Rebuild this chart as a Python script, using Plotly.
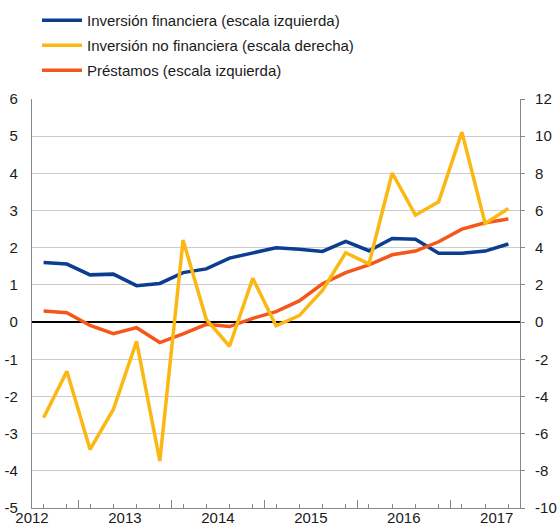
import plotly.graph_objects as go

# Quarterly data 2012Q1 .. 2017Q1
quarters = [2012 + i // 4 + (i % 4) / 4 + 0.125 for i in range(21)]
inv_financiera = [1.60, 1.56, 1.27, 1.29, 0.98, 1.04, 1.33, 1.43, 1.72, 1.85, 2.00,
                  1.96, 1.90, 2.17, 1.92, 2.25, 2.23, 1.85, 1.85, 1.91, 2.10]
inv_no_financiera = [-5.15, -2.65, -6.85, -4.70, -1.04, -7.47, 4.41, 0.15, -1.30, 2.36, -0.20,
                     0.35, 1.70, 3.73, 3.13, 8.02, 5.75, 6.47, 10.22, 5.31, 6.11]
prestamos = [0.30, 0.25, -0.09, -0.31, -0.15, -0.55, -0.32, -0.06, -0.12, 0.10, 0.28,
             0.57, 1.03, 1.33, 1.54, 1.81, 1.91, 2.16, 2.50, 2.67, 2.77]

year_ticks = [2012, 2013, 2014, 2015, 2016, 2017]
year_labels = ["2012", "2013", "2014", "2015", "2016", "2017"]
mid_year_ticks = [2012.5, 2013.5, 2014.5, 2015.5, 2016.5]
left_ticks = [-5, -4, -3, -2, -1, 0, 1, 2, 3, 4, 5, 6]
left_labels = ["-5", "-4", "-3", "-2", "-1", "0", "1", "2", "3", "4", "5", "6"]
right_ticks = [-10, -8, -6, -4, -2, 0, 2, 4, 6, 8, 10, 12]
right_labels = ["-10", "-8", "-6", "-4", "-2", "0", "2", "4", "6", "8", "10", "12"]

BLUE = "#0b3d91"
YELLOW = "#fbb812"
ORANGE = "#f5571b"
FONT = "Liberation Sans, Arial, sans-serif"

fig = go.Figure()
fig.add_trace(go.Scatter(x=quarters, y=inv_financiera, mode="lines",
                         name="Inversión financiera (escala izquierda)", legendgroup="a",
                         line=dict(color=BLUE, width=3.5)))
fig.add_trace(go.Scatter(x=quarters, y=inv_no_financiera, mode="lines",
                         name="Inversión no financiera (escala derecha)", legendgroup="b",
                         line=dict(color=YELLOW, width=3.5), yaxis="y2"))
fig.add_trace(go.Scatter(x=quarters, y=prestamos, mode="lines",
                         name="Préstamos (escala izquierda)", legendgroup="c",
                         line=dict(color=ORANGE, width=3.5)))
# invisible helper trace so the overlay axis carrying mid-year ticks is drawn
fig.add_trace(go.Scatter(x=[2012.5], y=[0], mode="markers", xaxis="x2",
                         marker=dict(opacity=0), showlegend=False, hoverinfo="skip"))

fig.update_layout(
    width=557, height=525,
    margin=dict(l=32, r=37, t=99, b=17, autoexpand=False),
    paper_bgcolor="white", plot_bgcolor="white",
    font=dict(family=FONT, size=15, color="#1a1a1a"),
    showlegend=True,
    legend=dict(x=37 / 557, y=1 - 4 / 525, xref="container", yref="container",
                yanchor="top", xanchor="left", orientation="v", tracegroupgap=2.5,
                font=dict(size=15, family=FONT), itemwidth=40,
                bgcolor="rgba(0,0,0,0)"),
    xaxis=dict(range=[2012, 2017.25], tickmode="array", tickvals=year_ticks,
               ticktext=year_labels, ticks="", showgrid=False, zeroline=False,
               showline=True, linecolor="#888888", linewidth=1.2, automargin=False,
               tickfont=dict(size=15, family=FONT), ticklabelstandoff=-4,
               minor=dict(tickmode="array", tickvals=quarters, ticks="inside",
                          ticklen=4, tickcolor="#888888", showgrid=False)),
    xaxis2=dict(range=[2012, 2017.25], overlaying="x", anchor="y", side="bottom",
                tickmode="array", tickvals=mid_year_ticks, ticks="inside",
                ticklen=8, tickcolor="#888888", showticklabels=False, automargin=False,
                showgrid=False, zeroline=False, showline=False),
    yaxis=dict(range=[-5, 6], tickmode="array", tickvals=left_ticks, ticktext=left_labels,
               showgrid=True, gridcolor="#cccccc", gridwidth=1,
               zeroline=True, zerolinecolor="black", zerolinewidth=2,
               showline=True, linecolor="#888888", linewidth=1.2, automargin=False,
               ticks="", tickfont=dict(size=15, family=FONT), ticklabelstandoff=10),
    yaxis2=dict(range=[-10, 12], tickmode="array", tickvals=right_ticks, ticktext=right_labels,
                overlaying="y", side="right", showgrid=False, zeroline=False,
                showline=True, linecolor="#888888", linewidth=1.2, automargin=False,
                ticks="outside", ticklen=4, tickcolor="#888888",
                tickfont=dict(size=15, family=FONT), ticklabelstandoff=7),
)

fig.write_html("out.html", config={"displayModeBar": False},
               post_script="document.body.style.margin='0';document.body.style.overflow='hidden';")
